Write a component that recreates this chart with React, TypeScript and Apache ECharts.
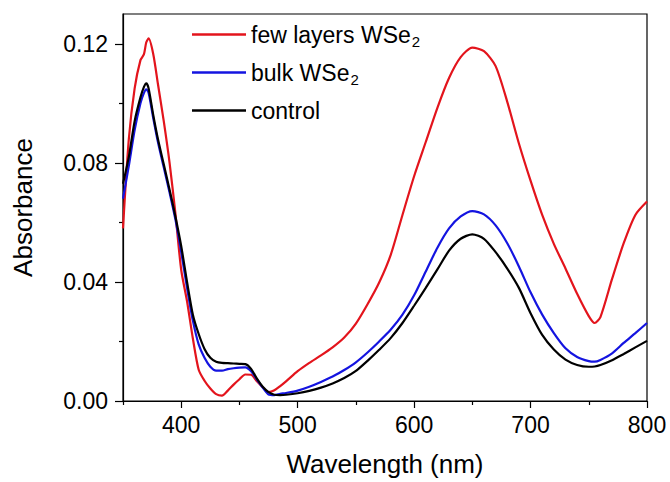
import React, { useEffect, useRef } from "react";
import * as echarts from "echarts";

const wavelengths = [350,355,360,365,368,370,372,376,380,385,390,395,400,405,410,415,420,425,430,435,440,445,450,455,460,465,470,475,480,485,490,500,510,520,530,540,550,560,570,580,590,600,610,620,630,640,650,660,670,680,690,700,710,720,730,740,750,755,760,770,780,790,800];

const fewLayers = [0.058,0.088,0.105,0.1145,0.1165,0.1205,0.1218,0.1165,0.1065,0.094,0.080,0.063,0.044,0.0335,0.021,0.0105,0.0068,0.0042,0.0023,0.0018,0.0035,0.0055,0.0073,0.0089,0.0088,0.0066,0.0046,0.0030,0.0036,0.0050,0.0066,0.0100,0.0128,0.0153,0.0180,0.0213,0.0260,0.0325,0.0398,0.0492,0.0625,0.0755,0.0870,0.0985,0.1085,0.1155,0.1187,0.1175,0.1125,0.1005,0.0865,0.0740,0.0625,0.0528,0.0445,0.0360,0.0285,0.0262,0.0282,0.0410,0.0530,0.0625,0.0670];

const bulk = [0.068,0.079,0.091,0.100,0.1035,0.1047,0.1035,0.095,0.087,0.0785,0.070,0.061,0.050,0.038,0.027,0.019,0.0145,0.0115,0.0102,0.0102,0.0107,0.0110,0.0112,0.0113,0.0100,0.0072,0.0045,0.0022,0.0020,0.0024,0.0027,0.0035,0.0048,0.0064,0.0082,0.0104,0.0130,0.0163,0.0200,0.0240,0.0290,0.0355,0.0435,0.0515,0.0580,0.0620,0.0638,0.0627,0.0590,0.0530,0.0452,0.0365,0.0290,0.0228,0.0177,0.0148,0.0134,0.0132,0.0138,0.0160,0.0195,0.0228,0.0262];

const control = [0.073,0.082,0.094,0.102,0.1055,0.1067,0.1050,0.0960,0.0880,0.0795,0.0710,0.0620,0.0520,0.0400,0.0290,0.0225,0.0175,0.0145,0.0132,0.0128,0.0127,0.0126,0.0125,0.0124,0.0108,0.0075,0.0048,0.0030,0.0021,0.0020,0.0021,0.0026,0.0034,0.0045,0.0059,0.0077,0.0101,0.0135,0.0172,0.0212,0.0262,0.0320,0.0380,0.0442,0.0505,0.0545,0.0560,0.0545,0.0500,0.0445,0.0380,0.0295,0.0222,0.0173,0.0139,0.0121,0.0115,0.0116,0.0121,0.0137,0.0158,0.0180,0.0202];

const xMajorTicks = [400, 500, 600, 700, 800];
const xMinorTicks = [350, 450, 550, 650, 750];
const yMajorTicks = [0, 0.04, 0.08, 0.12];
const yMinorTicks = [0.02, 0.06, 0.1];

const seriesNames = ["few layers WSe2", "bulk WSe2", "control"];
const seriesColors = ["#e3141c", "#1414e0", "#000000"];

const FONT = "'Liberation Sans', Arial, sans-serif";

export default function App() {
  const ref = useRef<HTMLDivElement>(null);
  useEffect(() => {
    if (!ref.current) return;
    const chart = echarts.init(ref.current, null, { renderer: "svg" });
    const pairs = (vals: number[]) => wavelengths.map((w, i) => [w, vals[i]]);
    const datasets = [fewLayers, bulk, control];
    const xBase = {
      type: "value",
      min: 350,
      max: 800,
      gridIndex: 0,
      splitLine: { show: false },
    };
    const yBase = {
      type: "value",
      min: 0,
      max: 0.13,
      gridIndex: 0,
      splitLine: { show: false },
    };
    chart.setOption({
      animation: false,
      backgroundColor: "#ffffff",
      grid: {
        left: 123,
        right: 23,
        top: 14,
        bottom: 80,
        show: true,
        borderColor: "#000",
        borderWidth: 1.2,
        backgroundColor: "transparent",
      },
      legend: {
        orient: "vertical",
        left: 187,
        top: 15,
        icon: "rect",
        itemWidth: 54,
        itemHeight: 2.4,
        itemGap: 9,
        data: seriesNames,
        formatter: (name: string) =>
          name.endsWith("WSe2")
            ? `{n|${name.slice(0, -1)}}{s|2}`
            : `{n|${name}}{s| }`,
        textStyle: {
          color: "#000",
          fontFamily: FONT,
          fontSize: 23,
          rich: {
            n: { fontSize: 23, fontFamily: FONT, color: "#000", lineHeight: 26 },
            s: { fontSize: 15, fontFamily: FONT, color: "#000", padding: [14, 0, 0, 1], lineHeight: 26 },
          },
        },
      },
      xAxis: [
        {
          ...xBase,
          position: "bottom",
          name: "Wavelength (nm)",
          nameLocation: "middle",
          nameGap: 50,
          nameTextStyle: { fontSize: 26, fontFamily: FONT, color: "#000" },
          axisLine: { show: true, lineStyle: { color: "#000", width: 1.2 } },
          axisTick: { show: true, length: 7, customValues: xMajorTicks, lineStyle: { color: "#000", width: 1.2 } },
          axisLabel: { customValues: xMajorTicks, margin: 12, fontSize: 23, fontFamily: FONT, color: "#000" },
        },
        {
          ...xBase,
          position: "bottom",
          axisLine: { show: false },
          axisTick: { show: true, length: 4, customValues: xMinorTicks, lineStyle: { color: "#000", width: 1.2 } },
          axisLabel: { show: false },
        },
      ],
      yAxis: [
        {
          ...yBase,
          position: "left",
          name: "Absorbance",
          nameLocation: "middle",
          nameGap: 87,
          nameTextStyle: { fontSize: 26, fontFamily: FONT, color: "#000" },
          axisLine: { show: true, lineStyle: { color: "#000", width: 1.2 } },
          axisTick: { show: true, length: 8, customValues: yMajorTicks, lineStyle: { color: "#000", width: 1.2 } },
          axisLabel: {
            customValues: yMajorTicks,
            margin: 15,
            fontSize: 23,
            fontFamily: FONT,
            color: "#000",
            formatter: (v: number) => v.toFixed(2),
          },
        },
        {
          ...yBase,
          position: "left",
          axisLine: { show: false },
          axisTick: { show: true, length: 4, customValues: yMinorTicks, lineStyle: { color: "#000", width: 1.2 } },
          axisLabel: { show: false },
        },
      ],
      series: seriesNames.map((name, i) => ({
        name,
        type: "line",
        xAxisIndex: 0,
        yAxisIndex: 0,
        data: pairs(datasets[i]),
        showSymbol: false,
        symbol: "none",
        smooth: 0.25,
        color: seriesColors[i],
        lineStyle: { color: seriesColors[i], width: 2.2 },
        z: 2 + i,
      })),
    });
    return () => chart.dispose();
  }, []);
  return (
    <div
      ref={ref}
      style={{ position: "fixed", left: 0, top: 0, width: 670, height: 482 }}
    />
  );
}
